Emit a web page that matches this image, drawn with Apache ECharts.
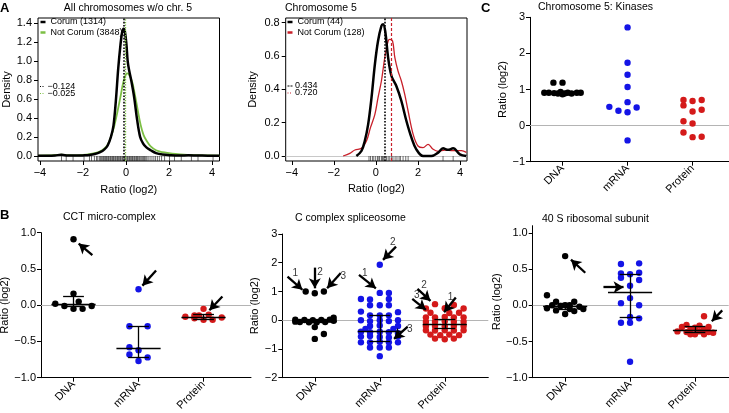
<!DOCTYPE html>
<html><head><meta charset="utf-8">
<script src="https://cdn.jsdelivr.net/npm/echarts@6/dist/echarts.min.js"></script>
<style>html,body{margin:0;padding:0;background:#fff}#c{width:729px;height:413px}</style>
</head><body><div id="c"></div>
<script>
const FONT = "'Liberation Sans', Arial, Helvetica, sans-serif";

// ---------- Panel A: density curves ----------
const allCorumX = [-4.09,-3.6,-3.3,-3.0,-2.7,-2.3,-2.0,-1.7,-1.45,-1.2,-1.0,-0.85,-0.7,-0.58,-0.47,-0.36,-0.26,-0.18,-0.11,-0.05,0.02,0.08,0.15,0.25,0.38,0.52,0.66,0.8,0.95,1.15,1.4,1.7,2.1,2.5,2.9,3.3,3.8,4.35];
const allCorumY = [0.002,0.003,0.006,0.012,0.005,0.004,0.006,0.010,0.02,0.04,0.07,0.11,0.20,0.32,0.58,0.92,1.16,1.30,1.34,1.31,1.18,1.00,0.90,0.79,0.62,0.38,0.20,0.13,0.09,0.06,0.03,0.015,0.008,0.005,0.007,0.005,0.003,0.002];
const allNotX = [-4.09,-3.6,-3.2,-3.0,-2.7,-2.3,-2.0,-1.7,-1.45,-1.2,-1.0,-0.85,-0.7,-0.55,-0.4,-0.25,-0.12,0.0,0.08,0.18,0.3,0.42,0.55,0.68,0.82,0.96,1.15,1.4,1.7,2.0,2.3,2.7,3.1,3.6,4.35];
const allNotY = [0.004,0.006,0.012,0.014,0.008,0.007,0.010,0.018,0.03,0.05,0.08,0.12,0.20,0.31,0.46,0.63,0.78,0.86,0.87,0.84,0.77,0.64,0.48,0.33,0.22,0.16,0.10,0.06,0.04,0.03,0.022,0.014,0.010,0.007,0.004];
const allRug = [-3.0,-2.78,-2.46,-1.95,-1.7,-1.6,-1.47,-1.37,-1.31,-1.24,-1.19,-1.13,-1.08,-1.04,-0.99,-0.95,-0.9,-0.87,-0.82,-0.79,-0.74,-0.71,-0.66,-0.63,-0.58,-0.55,-0.5,-0.47,-0.42,-0.39,-0.34,-0.31,-0.26,-0.23,-0.18,-0.15,-0.1,-0.07,-0.02,0.01,0.06,0.09,0.14,0.17,0.22,0.25,0.3,0.33,0.38,0.41,0.46,0.49,0.54,0.57,0.62,0.66,0.71,0.76,0.81,0.86,0.92,0.97,1.03,1.12,1.21,1.3,1.38,1.46,1.55,1.66,1.8,2.03,2.26,2.57,3.04,3.35,4.05];
const allMedians = [-0.124, -0.025];
const allLegend = ['Corum (1314)', 'Not Corum (3848)'];

const chr5CorumX = [-0.93,-0.69,-0.53,-0.37,-0.21,-0.05,0.1,0.26,0.34,0.44,0.58,0.74,0.97,1.21,1.45,1.69,1.92,2.24,2.64,2.96,3.19,3.43,3.67,3.99,4.3];
const chr5CorumY = [0.0,0.03,0.09,0.19,0.35,0.55,0.69,0.78,0.79,0.75,0.59,0.48,0.42,0.33,0.21,0.11,0.04,0.0,0.0,0.02,0.046,0.037,0.046,0.01,0.0];
const chr5NotX = [-1.56,-1.24,-1.0,-0.69,-0.45,-0.26,-0.05,0.1,0.26,0.42,0.58,0.66,0.79,0.9,1.05,1.21,1.37,1.53,1.77,2.0,2.24,2.48,2.72,2.96,3.27,3.67,4.07,4.3];
const chr5NotY = [0.0,0.016,0.036,0.046,0.09,0.17,0.25,0.35,0.45,0.59,0.69,0.70,0.69,0.59,0.51,0.45,0.37,0.27,0.13,0.06,0.05,0.07,0.04,0.028,0.036,0.032,0.032,0.022];
const chr5Rug = [-0.33,-0.26,-0.17,-0.10,-0.01,0.07,0.14,0.18,0.26,0.31,0.37,0.43,0.50,0.58,0.66,0.75,0.81,0.91,1.0,1.1,1.16,1.29,1.42,1.53,3.19,3.67];
const chr5Medians = [0.434, 0.720];
const chr5Legend = ['Corum (44)', 'Not Corum (128)'];

// ---------- Panels B and C: dot plots, points as [jitter, value] ----------
const cats = ['DNA', 'mRNA', 'Protein'];

const kinDNA = [[0,1.19],[-0.14,1.19],[-0.28,0.91],[-0.21,0.91],[-0.13,0.90],[-0.07,0.89],[-0.03,0.93],[0,0.87],[0.03,0.89],[0.08,0.91],[0.14,0.89],[0.22,0.91],[0.28,0.91]];
const kinRNA = [[0,2.72],[0,1.74],[0,1.41],[0,1.07],[0,0.65],[-0.28,0.52],[-0.14,0.41],[0,0.37],[0.14,0.50],[0,-0.41]];
const kinProt = [[-0.14,0.71],[0,0.68],[0.14,0.71],[-0.14,0.56],[0,0.39],[0.14,0.44],[-0.14,0.12],[0,0.06],[-0.14,-0.19],[0,-0.32],[0.14,-0.31]];

const cctDNA = [[0,0.91],[0,0.16],[-0.28,0.02],[-0.14,-0.01],[0,-0.05],[0.08,0.05],[0.14,-0.05],[0.28,-0.01]];
const cctRNA = [[0,0.22],[-0.14,-0.29],[0.14,-0.29],[-0.14,-0.58],[0,-0.62],[-0.14,-0.68],[0.14,-0.72],[0,-0.77]];
const cctProt = [[-0.28,-0.16],[-0.14,-0.18],[-0.14,-0.14],[-0.07,-0.14],[0,-0.05],[0,-0.2],[0.08,-0.13],[0.14,-0.2],[0.28,-0.17]];
const cctMed = [0.01, -0.60, -0.165];
const cctLo = [-0.02, -0.72, -0.19];
const cctHi = [0.13, -0.29, -0.13];
const cctArrows = [[0.29,0.69,0.08,0.85],[1.27,0.48,1.06,0.27],[2.29,0.12,2.09,-0.07]];
const cctArrowLabels = [];

const splDNA = [[-0.14,1.0],[0,0.94],[0.14,1.0],[-0.30,0.02],[-0.23,-0.06],[-0.16,0.01],[-0.09,-0.07],[-0.03,0.0],[0.03,-0.07],[0.1,0.01],[0.16,-0.06],[0.23,0.02],[0.29,0.09],[0.29,-0.02],[-0.30,-0.05],[0,-0.24],[0.14,-0.48],[0,-0.65]];
const splRNA = [[0,1.93],[0,0.95],[0.14,0.95],[-0.29,0.74],[-0.15,0.72],[0.14,0.74],[-0.15,0.52],[0,0.52],[0.14,0.52],[-0.29,0.30],[0.28,0.28],[-0.15,0.17],[0,0.17],[0.14,0.17],[-0.29,0.0],[-0.15,-0.03],[0,0.0],[0.14,-0.03],[0.28,0.0],[-0.15,-0.2],[0,-0.18],[0.28,-0.2],[-0.22,-0.3],[0.21,-0.3],[-0.29,-0.4],[-0.15,-0.42],[0,-0.4],[0.14,-0.42],[0.28,-0.45],[-0.29,-0.57],[-0.15,-0.55],[0,-0.58],[0.14,-0.6],[0.28,-0.57],[-0.29,-0.77],[-0.15,-0.77],[0,-0.75],[0.14,-0.77],[0.28,-0.77],[-0.15,-0.95],[0,-0.95],[0.14,-0.95],[0,-1.25]];
const splProt = [[-0.15,0.56],[0.14,0.53],[-0.29,0.41],[0,0.42],[0.29,0.41],[-0.22,0.26],[0.07,0.25],[0.22,0.26],[-0.29,0.1],[-0.15,0.1],[0,0.11],[0.14,0.1],[0.29,0.1],[-0.29,-0.05],[-0.15,-0.05],[0,-0.04],[0.14,-0.05],[0.29,-0.05],[-0.29,-0.2],[-0.15,-0.2],[0,-0.21],[0.14,-0.2],[0.29,-0.2],[-0.29,-0.35],[-0.15,-0.36],[0,-0.35],[0.14,-0.36],[0.29,-0.35],[-0.22,-0.5],[-0.07,-0.52],[0.07,-0.5],[0.22,-0.52],[-0.15,-0.64],[0,-0.66],[0.14,-0.64]];
const splMed = [-0.02, -0.37, -0.13];
const splLo = [-0.05, -0.72, -0.29];
const splHi = [0.04, 0.16, 0.03];
const splArrows = [[-0.42,1.52,-0.19,1.06],[0,1.83,0,1.11],[0.40,1.64,0.19,1.11],[0.68,1.58,0.94,1.11],[1.25,2.56,1.05,2.1],[1.43,-0.22,1.22,-0.65],[1.58,1.09,1.78,0.67],[1.5,0.74,1.71,0.36],[2.17,0.79,1.99,0.28]];
const splArrowLabels = [[-0.3,1.64,'1'],[0.08,1.68,'2'],[0.44,1.54,'3'],[0.77,1.62,'1'],[1.2,2.72,'2'],[1.46,-0.33,'3'],[1.68,1.22,'2'],[1.57,0.88,'3'],[2.09,0.8,'1']];

const ribDNA = [[0,0.68],[-0.28,0.14],[-0.28,-0.04],[-0.2,0.0],[-0.14,0.05],[-0.14,-0.07],[-0.07,-0.01],[0,0.0],[0,-0.12],[0.07,0.0],[0.07,-0.05],[0.14,0.05],[0.14,-0.08],[0.22,-0.02],[0.28,-0.05]];
const ribRNA = [[-0.14,0.57],[0.14,0.58],[-0.14,0.44],[0,0.43],[0.14,0.45],[-0.14,0.38],[0.14,0.35],[0,0.27],[0,0.10],[-0.14,0.03],[0.14,0.0],[0,-0.16],[0.14,-0.18],[-0.14,-0.24],[0,-0.24],[0,-0.78]];
const ribProt = [[0.14,-0.15],[-0.27,-0.36],[-0.2,-0.3],[-0.13,-0.27],[-0.13,-0.37],[-0.07,-0.33],[0,-0.31],[0,-0.40],[0.07,-0.36],[0.07,-0.28],[0.14,-0.33],[0.14,-0.40],[0.21,-0.3],[0.28,-0.38],[-0.07,-0.4],[0.21,-0.37]];
const ribMed = [-0.01, 0.18, -0.34];
const ribLo = [-0.05, -0.16, -0.37];
const ribHi = [0.03, 0.43, -0.29];
const ribArrows = [[0.31,0.45,0.09,0.63],[0.59,0.25,0.90,0.25],[2.42,-0.07,2.26,-0.22]];
const ribArrowLabels = [];

// ---------- styling ----------
const BLACK = '#000000', BLUE = '#1414e6', RED = '#d41a1a', GREEN = '#7cbf45', RED2 = '#c8202a';
const minus = v => (v < 0 ? '\u2212' : '') + Math.abs(v);
const fmt1 = v => (v < -1e-9 ? '\u2212' : '') + Math.abs(v).toFixed(1);
const fmt0 = v => (v < -1e-9 ? '\u2212' : '') + Math.abs(Math.round(v));
const fmt3 = v => (v < 0 ? '\u2212' : '') + Math.abs(v).toFixed(3);
const txt = (size) => ({fontSize: size, fontFamily: FONT, color: '#000'});

const grids = [
  {left: 38, top: 18, width: 181.5, height: 143},     // A1
  {left: 285.7, top: 18, width: 181.3, height: 143},  // A2
  {left: 530, top: 17.3, width: 199, height: 144.4},  // C
  {left: 41, top: 232.7, width: 210, height: 145},    // B1
  {left: 282.3, top: 234, width: 206, height: 143.7}, // B2
  {left: 532.7, top: 225.7, width: 196, height: 152}  // B3
].map((g, i) => Object.assign(g, {outerBoundsMode: 'none', containLabel: false,
  show: i < 2, borderColor: '#000', borderWidth: 1, backgroundColor: 'transparent'}));

function densX(gi, min, max, gap) {
  const t = [-4, -2, 0, 2, 4];
  return {type: 'value', gridIndex: gi, min, max, axisLine: {show: false, onZero: false},
    axisTick: {show: true, customValues: t, length: 4, lineStyle: {color: '#000'}},
    axisLabel: {customValues: t, formatter: minus, margin: 6, ...txt(11)},
    splitLine: {show: false}, name: 'Ratio (log2)', nameLocation: 'middle', nameGap: gap,
    nameTextStyle: txt(11)};
}
function densY(gi, min, max, ticks, gap) {
  return {type: 'value', gridIndex: gi, min, max, axisLine: {show: false, onZero: false},
    axisTick: {show: true, customValues: ticks, length: 4, lineStyle: {color: '#000'}},
    axisLabel: {customValues: ticks, formatter: fmt1, margin: 6, ...txt(11)},
    splitLine: {show: false}, name: 'Density', nameLocation: 'middle', nameGap: gap,
    nameTextStyle: txt(11)};
}
function catX(gi, max) {
  return {type: 'value', gridIndex: gi, min: -0.5, max,
    axisLine: {show: true, onZero: false, lineStyle: {color: '#000', width: 1}},
    axisTick: {show: true, customValues: [0, 1, 2], length: 4, lineStyle: {color: '#000'}},
    axisLabel: {customValues: [0, 1, 2], formatter: v => cats[Math.round(v)], rotate: 45, margin: 5, ...txt(11)},
    splitLine: {show: false}};
}
function valY(gi, min, max, ticks, f, gap) {
  return {type: 'value', gridIndex: gi, min, max,
    axisLine: {show: true, onZero: false, lineStyle: {color: '#000', width: 1}},
    axisTick: {show: true, customValues: ticks, length: 4, lineStyle: {color: '#000'}},
    axisLabel: {customValues: ticks, formatter: f, margin: 5, ...txt(11)},
    splitLine: {show: false}, name: 'Ratio (log2)', nameLocation: 'middle', nameGap: gap,
    nameTextStyle: txt(11)};
}

const xAxis = [
  densX(0, -4.09, 4.35, 23), densX(1, -4.29, 4.33, 22),
  catX(2, 2.56), catX(3, 2.73), catX(4, 2.67), catX(5, 2.52)
];
const yAxis = [
  densY(0, -0.053, 1.453, [0,0.2,0.4,0.6,0.8,1.0,1.2,1.4], 25),
  densY(1, -0.03, 0.828, [0,0.2,0.4,0.6,0.8], 27),
  valY(2, -1, 3, [-1,0,1,2,3], fmt0, 22),
  valY(3, -1, 1, [-1,-0.5,0,0.5,1], fmt1, 22),
  valY(4, -2, 3, [-2,-1,0,1,2,3], fmt0, 20),
  valY(5, -1, 1.1, [-1,-0.5,0,0.5,1], fmt1, 28)
];

const zip = (xs, ys) => xs.map((x, i) => [x, ys[i]]);
function densLine(ai, name, xs, ys, color, width, median, dash, mw) {
  return {type: 'line', name, xAxisIndex: ai, yAxisIndex: ai, data: zip(xs, ys),
    smooth: 0.35, symbol: 'none', silent: true, z: 3,
    lineStyle: {color, width}, itemStyle: {color},
    markLine: {silent: true, symbol: ['none', 'none'], label: {show: false}, z: 4,
      lineStyle: {color, width: mw, type: dash}, data: [{xAxis: median}]}};
}
function rugSeries(ai, vals, ymin) {
  return {type: 'scatter', xAxisIndex: ai, yAxisIndex: ai, data: vals.map(v => [v, ymin]),
    symbol: 'rect', symbolSize: [0.8, 5], symbolOffset: [0, -2.5], silent: true, z: 2,
    itemStyle: {color: '#222'},
    markLine: {silent: true, symbol: ['none', 'none'], label: {show: false}, z: 1,
      lineStyle: {color: '#c8c8c8', width: 1, type: 'solid'}, data: [{yAxis: 0}]}};
}
function dots(ai, pts, ci, color) {
  return {type: 'scatter', xAxisIndex: ai, yAxisIndex: ai, data: pts.map(p => [ci + p[0], p[1]]),
    symbolSize: 6.4, itemStyle: {color, opacity: 1}, silent: true, z: 3};
}
function zeroLine(ai) {
  return {type: 'scatter', xAxisIndex: ai, yAxisIndex: ai, data: [], silent: true, z: 1,
    markLine: {silent: true, symbol: ['none', 'none'], label: {show: false}, z: 1,
      lineStyle: {color: '#b4b4b4', width: 1, type: 'solid'}, data: [{yAxis: 0}]}};
}
function errorBars(ai, med, lo, hi) {
  const cw = 0.16, mw = 0.34, d = [];
  for (let i = 0; i < 3; i++) {
    d.push([{coord: [i, lo[i]]}, {coord: [i, hi[i]]}]);
    d.push([{coord: [i - cw, hi[i]]}, {coord: [i + cw, hi[i]]}]);
    d.push([{coord: [i - cw, lo[i]]}, {coord: [i + cw, lo[i]]}]);
    d.push([{coord: [i - mw, med[i]]}, {coord: [i + mw, med[i]]}]);
  }
  return {type: 'scatter', xAxisIndex: ai, yAxisIndex: ai, data: [], silent: true, z: 4,
    markLine: {silent: true, symbol: ['none', 'none'], label: {show: false}, z: 6,
      lineStyle: {color: '#000', width: 1.3, type: 'solid'}, data: d}};
}
function arrows(ai, arr, labels) {
  return {type: 'scatter', xAxisIndex: ai, yAxisIndex: ai, silent: true, z: 7,
    data: labels.map(l => ({value: [l[0], l[1]], name: l[2]})), symbolSize: 0,
    label: {show: true, position: 'inside', formatter: '{b}', ...txt(10)},
    markLine: {silent: true, symbol: ['none', 'arrow'], symbolSize: [9, 10], label: {show: false}, z: 7,
      lineStyle: {color: '#000', width: 2.3, type: 'solid'},
      data: arr.map(a => [{coord: [a[0], a[1]]}, {coord: [a[2], a[3]]}])}};
}

const series = [
  rugSeries(0, allRug, -0.053),
  densLine(0, allLegend[1], allNotX, allNotY, GREEN, 1.8, allMedians[1], 'dotted', 1.3),
  densLine(0, allLegend[0], allCorumX, allCorumY, BLACK, 2.5, allMedians[0], 'dotted', 1.6),
  rugSeries(1, chr5Rug, -0.03),
  densLine(1, chr5Legend[1], chr5NotX, chr5NotY, RED2, 1.3, chr5Medians[1], [3, 2], 1.2),
  densLine(1, chr5Legend[0], chr5CorumX, chr5CorumY, BLACK, 2.5, chr5Medians[0], 'dotted', 1.6),
  zeroLine(2), dots(2, kinDNA, 0, BLACK), dots(2, kinRNA, 1, BLUE), dots(2, kinProt, 2, RED),
  zeroLine(3), dots(3, cctDNA, 0, BLACK), dots(3, cctRNA, 1, BLUE), dots(3, cctProt, 2, RED),
  errorBars(3, cctMed, cctLo, cctHi), arrows(3, cctArrows, cctArrowLabels),
  zeroLine(4), dots(4, splDNA, 0, BLACK), dots(4, splRNA, 1, BLUE), dots(4, splProt, 2, RED),
  errorBars(4, splMed, splLo, splHi), arrows(4, splArrows, splArrowLabels),
  zeroLine(5), dots(5, ribDNA, 0, BLACK), dots(5, ribRNA, 1, BLUE), dots(5, ribProt, 2, RED),
  errorBars(5, ribMed, ribLo, ribHi), arrows(5, ribArrows, ribArrowLabels)
];

function legendFor(names, left) {
  return {data: names, orient: 'vertical', left, top: 17.5, itemWidth: 5, itemHeight: 2.5,
    itemGap: 1.5, icon: 'rect', padding: 0, selectedMode: false, textStyle: txt(9)};
}

function medNote(x, y, value, color, dash) {
  return [
    {type: 'line', shape: {x1: x, y1: y, x2: x + 5, y2: y}, silent: true,
      style: {stroke: color, lineWidth: 1.2, lineDash: dash}},
    {type: 'text', x: x + 7.5, y, silent: true,
      style: {text: fmt3(value), fontSize: 9, fontFamily: FONT, fill: '#000', verticalAlign: 'middle'}}
  ];
}
function label(text, x, y, opt) {
  return {type: 'text', x, y, silent: true,
    style: Object.assign({text, fontSize: 10.5, fontFamily: FONT, fill: '#000', verticalAlign: 'middle', align: 'left'}, opt || {})};
}

const graphic = [
  label('A', 0, 8.5, {fontSize: 13, fontWeight: 'bold'}),
  label('B', 0, 215.5, {fontSize: 13, fontWeight: 'bold'}),
  label('C', 481, 8.5, {fontSize: 13, fontWeight: 'bold'}),
  label('All chromosomes w/o chr. 5', 128, 8, {align: 'center'}),
  label('Chromosome 5', 285, 8),
  label('Chromosome 5: Kinases', 538, 7.5),
  label('CCT micro-complex', 63, 217),
  label('C complex spliceosome', 295, 218),
  label('40 S ribosomal subunit', 542, 219.5),
  ...medNote(40, 86.5, allMedians[0], BLACK, [1, 1.5]),
  ...medNote(40, 93.5, allMedians[1], GREEN, [1, 1.5]),
  ...medNote(287.5, 86, chr5Medians[0], BLACK, [2, 1]),
  ...medNote(287.5, 93, chr5Medians[1], RED2, [1, 1.5])
];

const chart = echarts.init(document.getElementById('c'), null, {renderer: 'canvas'});
chart.setOption({
  animation: false,
  backgroundColor: '#fff',
  textStyle: {fontFamily: FONT},
  grid: grids, xAxis, yAxis, series,
  legend: [legendFor(allLegend, 40.5), legendFor(chr5Legend, 287.5)],
  graphic
});
</script></body></html>
